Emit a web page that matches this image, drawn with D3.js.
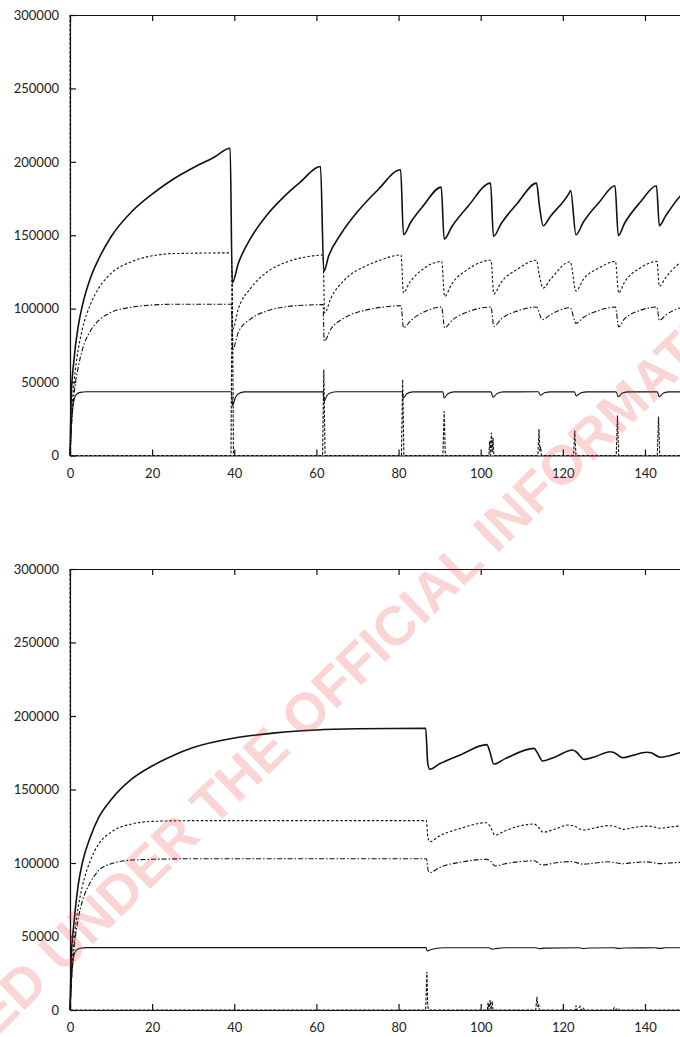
<!DOCTYPE html>
<html>
<head>
<meta charset="utf-8">
<script src="https://cdn.jsdelivr.net/npm/d3@7"></script>
<style>
  body { margin: 0; background: #fff; }
  .tick text { font-family: Lato, "Open Sans", sans-serif; font-size: 13px; fill: #222; }
  .axis path, .axis line { stroke: #111; stroke-width: 1.2; }
</style>
</head>
<body>
<div id="chart"></div>
<script>
//tick values for both panels
var yTicks = [0, 50000, 100000, 150000, 200000, 250000, 300000];
var xTicks = [0, 20, 40, 60, 80, 100, 120, 140];

//top panel series, [time, value]
var topS1 = [[0,0],[0.3,40000],[1,66000],[2,88000],[3,102000],[5,121000],[7,134000],[10,149000],[15,166000],[20,178000],[25,188000],[30,196000],[35,203000],[39,209300],[39.5,117500],[41,131000],[44,148000],[48,164000],[52,176000],[56,186000],[61,196800],[61.8,125400],[63,136000],[66,151000],[70,166000],[75,181000],[80.5,194600],[81.2,150300],[83,159000],[86,170000],[90.4,182800],[91.1,147400],[93,156000],[97,170000],[102.4,185500],[103.1,149200],[105,158000],[109,172000],[113.6,185500],[114.3,170000],[115.2,156500],[117,163000],[121.5,178500],[121.9,180500],[123.2,150300],[125,159000],[129,173000],[132.7,183700],[133.5,149700],[135,158000],[139,173000],[142.8,183700],[143.5,156500],[145,163000],[148.5,176400],[152,184000]];
var topS2 = [[0,0],[0.5,32000],[1,50000],[2,72000],[3,86000],[5,103000],[7,114000],[10,124000],[15,132000],[20,136000],[25,137500],[39.3,138000],[39.6,86000],[41,100000],[44,114000],[48,125000],[53,132000],[58,135500],[61.6,136500],[62,97000],[63.5,107000],[67,120000],[72,129000],[76,133500],[80.6,136600],[81.2,110700],[82.5,117000],[86,127000],[90.5,132200],[91.2,108400],[93,117000],[97,127000],[102.5,133000],[103.2,110000],[105,118000],[109,127000],[113.6,133000],[114.2,124000],[115.2,114000],[117,120000],[121.8,132000],[123.2,112000],[125,120000],[129,128000],[132.8,132200],[133.6,110700],[135,118000],[139,128000],[142.9,132200],[143.5,115200],[145,121000],[148.5,131000],[152,134000]];
var topS3 = [[0,0],[0.5,26000],[1,42000],[2,60000],[3,72000],[5,85000],[7,92000],[10,97500],[15,101000],[20,102500],[25,103000],[39.3,103000],[39.6,72000],[41,84000],[44,93000],[48,98500],[53,101500],[58,102500],[61.6,102800],[61.9,77800],[63.5,86000],[67,94000],[72,99000],[76,101000],[80.6,102000],[81.2,86900],[83,92000],[86,97500],[90.5,101100],[91.2,86900],[93,92000],[97,98000],[102.5,101100],[103.2,88000],[105,93000],[109,98500],[113.6,101100],[115,92500],[117,96000],[121.8,100600],[123.2,90000],[125,94000],[129,99000],[132.8,101100],[133.6,87600],[135,93000],[139,99000],[142.9,101100],[143.5,92000],[145,95500],[148.5,100400],[152,101500]];
var topS4 = [[0,0],[0.3,20000],[0.7,33000],[1,38000],[1.5,41500],[2.5,43000],[4,43400],[39.3,43400],[39.6,34000],[40.2,39000],[41,42000],[42.5,43300],[61.6,43400],[61.9,37000],[62.5,40500],[63.5,42800],[65,43400],[80.9,43400],[81.2,39200],[82,42000],[83.5,43300],[90.8,43400],[91.1,39200],[92,42000],[93.5,43300],[102.5,43400],[103,39700],[104,42300],[105.5,43300],[114,43400],[114.6,41000],[115.5,42700],[117,43300],[122.8,43400],[123.3,40500],[124.3,42600],[126,43300],[133,43400],[133.5,40000],[134.5,42500],[136,43300],[143,43400],[143.5,40000],[144.5,42500],[146,43300],[152,43400]];
var topS5 = [[0,300000],[0.15,0],[39.2,0],[39.5,125000],[39.8,0],[61.5,0],[61.8,58500],[62.1,0],[80.7,0],[81,51700],[81.3,0],[90.8,0],[91.1,30100],[91.4,0],[102,0],[102.2,10000],[102.4,0],[102.6,15400],[102.8,2000],[103,12000],[103.2,0],[113.9,0],[114.2,18100],[114.4,3000],[114.6,6000],[114.8,0],[122.6,0],[122.9,17000],[123.2,0],[133,0],[133.3,27200],[133.6,0],[143,0],[143.3,26300],[143.6,0],[155,0]];

//bottom panel series, [time, value]
var botS1 = [[0,0],[0.3,35000],[1,60000],[2,85000],[3,100000],[5,118000],[7,131000],[10,143000],[15,157000],[20,166000],[25,173000],[30,178500],[40,185000],[50,188500],[60,190500],[70,191300],[86.6,191700],[87.1,168000],[87.6,163800],[90,167500],[95,173500],[101.5,180500],[102.2,176000],[103.2,167300],[106,171000],[113,178000],[113.8,175000],[115.1,169400],[118,172000],[122.4,176900],[123.3,175500],[125.2,170500],[128,172500],[131.5,175700],[132.5,175000],[134.6,171600],[137,173200],[140.4,175300],[141.5,175000],[143.7,171900],[146,173000],[148.5,175000],[152,176000]];
var botS2 = [[0,0],[0.5,30000],[1,48000],[2,70000],[3,84000],[5,102000],[7,113000],[10,121000],[15,126500],[20,128300],[30,128800],[86.8,128800],[87.1,118000],[87.6,114500],[90,118500],[95,123500],[101.3,127400],[102.3,125000],[103.5,119000],[106,122000],[113,126500],[114,124500],[115.2,120900],[118,123000],[121.3,125800],[122.5,125500],[125,122400],[128,124000],[131.1,125400],[132.5,125000],[134.7,122900],[137,124000],[140.4,125100],[142,124800],[143.7,123600],[146,124400],[148.5,125100],[152,125200]];
var botS3 = [[0,0],[0.5,25000],[1,42000],[2,62000],[3,74000],[5,87000],[7,95000],[10,99500],[15,102000],[20,102500],[30,102900],[86.8,102900],[87.2,95000],[87.6,93500],[90,97000],[95,100500],[101.5,102500],[102.5,101000],[103.5,98000],[106,99500],[113,101500],[115,98600],[118,100000],[122,101000],[125,99200],[128,100000],[131,100800],[134.7,99500],[137,100200],[140.4,100800],[143.7,99600],[146,100000],[148.5,100400],[152,100600]];
var botS4 = [[0,0],[0.3,20000],[0.7,33000],[1,37500],[1.5,40500],[2.5,42000],[4,42400],[86.7,42400],[87,40100],[87.6,40800],[89,41800],[91,42300],[102,42300],[102.8,41400],[104,41900],[106,42300],[113.5,42300],[114.3,41700],[115.5,42100],[124,42300],[125,41800],[126.5,42200],[132.5,42300],[133.5,41900],[135,42200],[142.5,42300],[143.5,41900],[145,42300],[152,42400]];
var botS5 = [[0,300000],[0.15,0],[86.6,0],[86.9,26000],[87.1,3000],[87.3,0],[101.6,0],[101.8,5000],[102,0],[102.3,6800],[102.5,0],[102.8,6000],[103,0],[113.4,0],[113.7,9000],[113.9,2000],[114.1,4000],[114.3,0],[123,0],[123.2,3000],[123.4,0],[124.2,2500],[124.4,0],[125,1500],[125.2,0],[132.3,0],[132.5,1500],[132.7,0],[133.5,1200],[133.7,0],[155,0]];

var watermarkText = "RELEASED UNDER THE OFFICIAL INFORMATION ACT";

//svg size
var svgWidth = 680;
var svgHeight = 1037;

var svg = d3.select("#chart")
  .append("svg")
  .attr("width", svgWidth)
  .attr("height", svgHeight);

//shared x scale, runs past the right edge of the page
var xScale = d3.scaleLinear()
  .domain([0, 160])
  .range([70, 70 + 160 * 4.107]);

//line styles for the 5 series
var styles = [
  { width: 1.6, dash: null, curve: d3.curveMonotoneX },
  { width: 1.1, dash: "2.5,2", curve: d3.curveMonotoneX },
  { width: 1.1, dash: "5,2,1.5,2", curve: d3.curveMonotoneX },
  { width: 1.1, dash: null, curve: d3.curveMonotoneX },
  { width: 1.1, dash: "3,1.5", curve: d3.curveLinear }
];

function drawPanel(top, bottom, series) {
  var yScale = d3.scaleLinear()
    .domain([0, 300000])
    .range([bottom, top]);

  var g = svg.append("g");

  //series lines
  series.forEach(function(data, i) {
    var line = d3.line()
      .x(d => xScale(d[0]))
      .y(d => yScale(d[1]))
      .curve(styles[i].curve);
    g.append("path")
      .datum(data)
      .attr("d", line)
      .attr("fill", "none")
      .attr("stroke", "#111")
      .attr("stroke-width", styles[i].width)
      .attr("stroke-dasharray", styles[i].dash);
  });

  //left axis, ticks pointing in
  g.append("g")
    .attr("class", "axis")
    .attr("transform", "translate(70,0)")
    .call(d3.axisLeft(yScale).tickValues(yTicks).tickFormat(d3.format("d"))
      .tickSizeInner(-6).tickSizeOuter(0).tickPadding(11));

  //bottom axis
  g.append("g")
    .attr("class", "axis")
    .attr("transform", `translate(0,${bottom})`)
    .call(d3.axisBottom(xScale).tickValues(xTicks).tickFormat(d3.format("d"))
      .tickSizeInner(-6).tickSizeOuter(0).tickPadding(13));

  //top frame
  g.append("g")
    .attr("class", "axis")
    .attr("transform", `translate(0,${top})`)
    .call(d3.axisTop(xScale).tickValues(xTicks).tickSizeInner(-6).tickSizeOuter(0).tickFormat(""));
}

drawPanel(15, 455.5, [topS1, topS2, topS3, topS4, topS5]);
drawPanel(569, 1010, [botS1, botS2, botS3, botS4, botS5]);

//watermark across both panels
svg.append("text")
  .attr("transform", "translate(336,683) rotate(-44)")
  .attr("text-anchor", "middle")
  .attr("dominant-baseline", "central")
  .attr("font-family", "'Liberation Sans', Arial, sans-serif")
  .attr("font-weight", "bold")
  .attr("font-size", 55)
  .attr("fill", "rgba(235,40,40,0.2)")
  .text(watermarkText);
</script>
</body>
</html>
